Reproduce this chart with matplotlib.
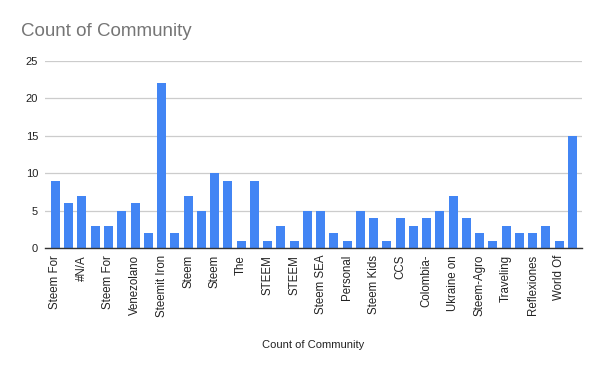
import matplotlib
matplotlib.use("Agg")
import matplotlib.pyplot as plt
import numpy as np

plt.rcParams['font.family'] = ['Liberation Sans', 'DejaVu Sans']

values = [9, 6, 7, 3, 3, 5, 6, 2, 22, 2, 7, 5, 10, 9, 1, 9, 1, 3, 1, 5,
          5, 2, 1, 5, 4, 1, 4, 3, 4, 5, 7, 4, 2, 1, 3, 2, 2, 3, 1, 15]
tick_labels = ["Steem For", "#N/A", "Steem For", "Venezolano", "Steemit Iron",
               "Steem", "Steem", "The", "STEEM", "STEEM", "Steem SEA", "Personal",
               "Steem Kids", "CCS", "Colombia-", "Ukraine on", "Steem-Agro",
               "Traveling", "Reflexiones", "World Of"]
y_ticks = [0, 5, 10, 15, 20, 25]

fig = plt.figure(figsize=(6, 3.71), dpi=100)
ax = fig.add_axes([45/600, 1-248/371, (582-45)/600, (248-61)/371])

x = np.arange(len(values))
ax.bar(x, values, width=0.68, color="#4285F4", zorder=3)

ax.set_xlim(-0.79, len(values) - 0.28)
ax.set_ylim(0, 25)
ax.set_yticks(y_ticks)
ax.set_yticklabels([str(v) for v in y_ticks], fontsize=8, color="#222222")
ax.set_xticks(x[::2])
ax.set_xticklabels(tick_labels, rotation=90, fontsize=8.3, color="#222222")
ax.tick_params(axis='both', length=0)
ax.tick_params(axis='y', pad=5)
ax.tick_params(axis='x', pad=5)
ax.grid(axis='y', color="#cccccc", linewidth=0.9, zorder=0)
for s in ['top', 'right', 'left']:
    ax.spines[s].set_visible(False)
ax.spines['bottom'].set_color("#333333")
ax.spines['bottom'].set_linewidth(1.0)
ax.spines['bottom'].set_zorder(4)

fig.text(21/600, 1-31/371, "Count of Community", fontsize=13.5, color="#757575",
         ha='left', va='center')
fig.text((45+582)/2/600, 1-345/371, "Count of Community", fontsize=8,
         color="#222222", ha='center', va='center')

fig.savefig("out.png", dpi=100)
